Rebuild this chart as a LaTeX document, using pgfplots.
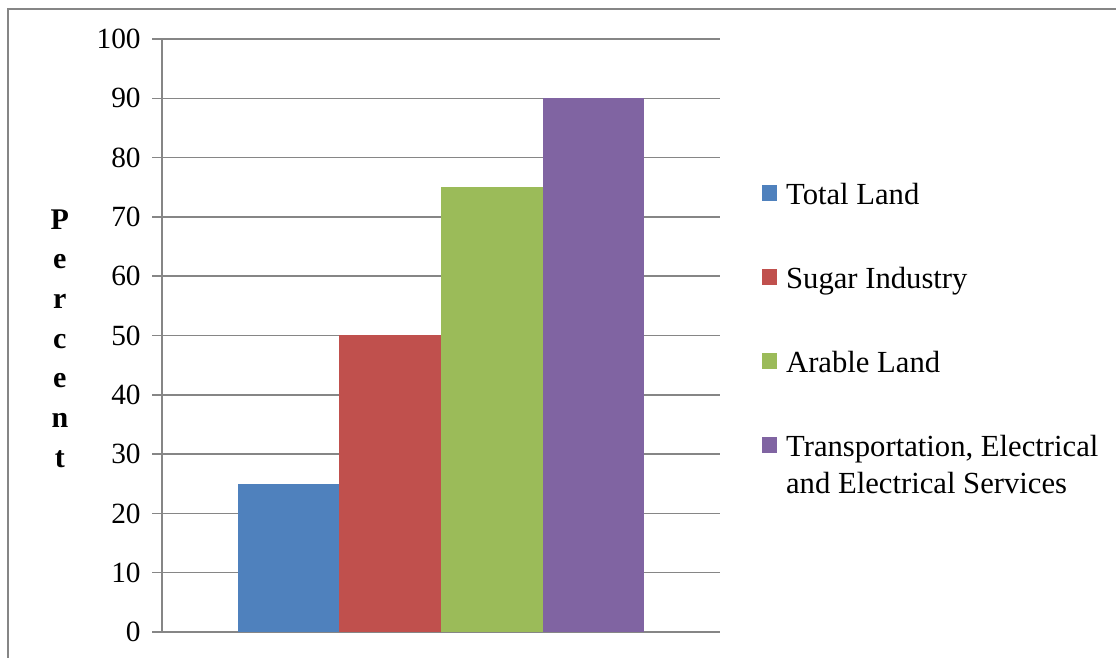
\documentclass[border=0pt]{standalone}
\usepackage{fontspec}
\setmainfont{Liberation Serif}
\usepackage{pgfplots}
\pgfplotsset{compat=1.18}

\definecolor{framegray}{RGB}{134,134,134}
\definecolor{barblue}{RGB}{79,129,189}
\definecolor{barred}{RGB}{192,80,77}
\definecolor{bargreen}{RGB}{155,187,89}
\definecolor{barpurple}{RGB}{128,100,162}

\begin{document}
\begin{tikzpicture}
\useasboundingbox (0pt,0pt) rectangle (837pt,492.75pt);
% chart frame (left and top edges)
\begin{scope}
  \clip (0pt,0pt) rectangle (837pt,492.75pt);
  \draw[framegray, line width=1.4pt] (6pt,-20pt) -- (6pt,486pt) -- (860pt,486pt);
\end{scope}

\begin{axis}[
  at={(121.5pt,18.75pt)}, anchor=south west,
  scale only axis, width=418.5pt, height=444.75pt,
  ybar=0pt, bar width=0.182,
  xmin=-0.5, xmax=0.5, ymin=0, ymax=100,
  xtick=\empty,
  ytick={0,10,...,100},
  axis x line=none,
  axis y line=left,
  y axis line style={-, framegray, line width=1.1pt},
  ymajorgrids,
  grid style={framegray, line width=1.1pt},
  major tick length=7.5pt,
  tick align=outside,
  ytick style={framegray, line width=1.1pt},
  /pgf/number format/assume math mode=true,
  yticklabel style={font=\fontsize{22}{26}\selectfont, xshift=-5pt},
  ylabel={P\\e\\r\\c\\e\\n\\t},
  ylabel style={rotate=-90, align=center,
    font=\fontsize{22.5}{29.75}\selectfont\bfseries,
    at={(axis description cs:-0.183,0.495)}, anchor=center},
  legend cell align=left,
  legend style={
    at={(axis description cs:1.075,0.757)}, anchor=north west,
    draw=none, fill=none, inner sep=0pt,
    row sep=42pt, column sep=0pt,
    font=\fontsize{23}{27.5}\selectfont,
    nodes={inner sep=0pt, text height=16pt, text depth=5pt},
    /tikz/every odd column/.append style={column sep=6.5pt},
  },
  legend image code/.code={
    \fill[#1] (0pt,-2.5pt) rectangle (11.5pt,9pt);
  },
]
\addplot[fill=barblue, draw=none] coordinates {(0,25)};
\addplot[fill=barred, draw=none] coordinates {(0,50)};
\addplot[fill=bargreen, draw=none] coordinates {(0,75)};
\addplot[fill=barpurple, draw=none] coordinates {(0,90)};
\legend{Total Land, Sugar Industry, Arable Land,
  {\vtop{\hbox{Transportation, Electrical}\hbox{and Electrical Services}}}}
\end{axis}
\end{tikzpicture}
\end{document}
